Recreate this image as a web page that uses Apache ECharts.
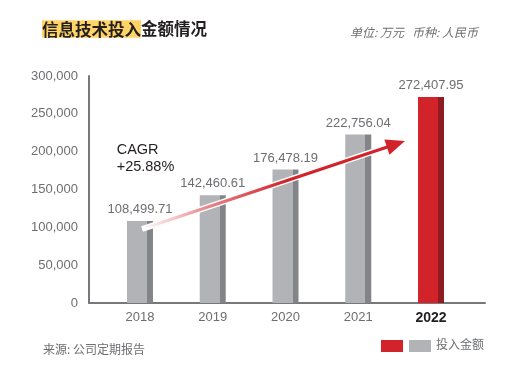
<!DOCTYPE html>
<html><head><meta charset="utf-8">
<script src="https://cdn.jsdelivr.net/npm/echarts@6/dist/echarts.min.js"></script>
<style>html,body{margin:0;padding:0;background:#fff}#c{width:505px;height:370px}</style>
</head><body><div id="c"></div>
<script>
const years = ['2018', '2019', '2020', '2021', '2022'];
const values = [108499.71, 142460.61, 176478.19, 222756.04, 272407.95];
const valueLabels = ['108,499.71', '142,460.61', '176,478.19', '222,756.04', '272,407.95'];
const yTicks = [0, 50000, 100000, 150000, 200000, 250000, 300000];
const highlightIndex = 4;
const cagrText = ['CAGR', '+25.88%'];
const titleHi = '信息技术投入';
const titleRest = '金额情况';
const unitText = '单位: 万元   币种: 人民币';
const sourceText = '来源: 公司定期报告';
const legendText = '投入金额';

const FONT = '"Liberation Sans", Arial, "Noto Sans CJK SC", sans-serif';
const CJK = '"Noto Sans CJK SC", "Liberation Sans", sans-serif';
const GRAY_L = '#b2b3b6', GRAY_D = '#838487', RED_L = '#d2232a', RED_D = '#8f1c21';
const TXT = '#6d6e71', DARK = '#231f20';

function barColor(l, d) {
  return new echarts.graphic.LinearGradient(0, 0, 1, 0, [
    {offset: 0, color: l}, {offset: 0.77, color: l},
    {offset: 0.77, color: d}, {offset: 1, color: d}
  ]);
}

const chart = echarts.init(document.getElementById('c'), null, {renderer: 'canvas'});
const option = {
  animation: false,
  backgroundColor: '#fff',
  textStyle: {fontFamily: FONT},
  title: [
    {left: 37, top: 15, text: '{h|' + titleHi + '}{n|' + titleRest + '}',
     textStyle: {rich: {
       h: {fontFamily: CJK, fontSize: 16.5, color: DARK, backgroundColor: '#ffd466', padding: [1, 0, 0, 0], lineHeight: 18},
       n: {fontFamily: CJK, fontSize: 16.5, color: DARK, lineHeight: 18}
     }}},
    {right: 22, top: 21, text: unitText,
     textStyle: {fontFamily: CJK, fontSize: 12, fontStyle: 'italic', fontWeight: 'normal', color: TXT}},
    {left: 38, top: 338, text: sourceText,
     textStyle: {fontFamily: CJK, fontSize: 12, fontWeight: 'normal', color: TXT}}
  ],
  grid: [
    {left: 89, right: 20, top: 76, bottom: 67},
    {left: 103.6, right: 37.6, top: 76, bottom: 67}
  ],
  xAxis: [
    {gridIndex: 0, type: 'value', min: 2017.3, max: 2022.74,
     axisLine: {show: true, onZero: false, lineStyle: {color: '#77787b', width: 2}},
     axisTick: {show: false}, axisLabel: {show: false}, splitLine: {show: false}},
    {gridIndex: 1, type: 'category', data: years,
     axisLine: {show: false}, axisTick: {show: false}, splitLine: {show: false},
     axisLabel: {margin: 8, fontSize: 13, color: TXT, fontFamily: FONT,
       formatter: (v, i) => i === highlightIndex ? '{b|' + v + '}' : v,
       rich: {b: {fontSize: 14, fontWeight: 'bold', color: DARK, fontFamily: FONT}}}}
  ],
  yAxis: [
    {gridIndex: 0, type: 'value', min: 0, max: 300000, interval: 50000,
     axisLine: {show: true, lineStyle: {color: '#77787b', width: 2}},
     axisTick: {show: false}, splitLine: {show: false},
     axisLabel: {margin: 11, fontSize: 13, color: TXT, fontFamily: FONT,
       formatter: v => yTicks.indexOf(v) >= 0 ? v.toLocaleString('en-US') : ''}},
    {gridIndex: 1, type: 'value', min: 0, max: 300000, interval: 50000, show: false}
  ],
  series: [{
    type: 'bar', xAxisIndex: 1, yAxisIndex: 1, barWidth: 26, z: 2,
    data: values.map((v, i) => ({
      value: v,
      itemStyle: {color: i === highlightIndex ? barColor(RED_L, RED_D) : barColor(GRAY_L, GRAY_D)}
    })),
    label: {show: true, position: 'top', distance: 5, fontSize: 13, color: TXT, fontFamily: FONT,
      formatter: p => valueLabels[p.dataIndex]}
  }]
};
chart.setOption(option);

// annotation arrow (decoration) positioned via data coordinates
const p0 = chart.convertToPixel({xAxisIndex: 0, yAxisIndex: 0}, [2018.03, 97800]);
const tip = chart.convertToPixel({xAxisIndex: 0, yAxisIndex: 0}, [2021.64, 214000]);
const dx = tip[0] - p0[0], dy = tip[1] - p0[1];
const L = Math.hypot(dx, dy), ux = dx / L, uy = dy / L, nx = -uy, ny = ux;
const headLen = 19, headW = 8;
const base = [tip[0] - ux * headLen, tip[1] - uy * headLen];
const lineEnd = [tip[0] - ux * (headLen - 2), tip[1] - uy * (headLen - 2)];
const grad = new echarts.graphic.LinearGradient(p0[0], p0[1], tip[0], tip[1], [
  {offset: 0, color: '#ffffff'}, {offset: 0.25, color: '#e7868a'}, {offset: 0.55, color: '#d2232a'}, {offset: 1, color: '#d2232a'}
], true);
const headPts = [tip, [base[0] + nx * headW, base[1] + ny * headW], [base[0] - nx * headW, base[1] - ny * headW]];

const cagrPos = chart.convertToPixel({xAxisIndex: 0, yAxisIndex: 0}, [2017.68, 213000]);

chart.setOption({
  graphic: [
    {type: 'line', z: 10, shape: {x1: p0[0], y1: p0[1], x2: lineEnd[0], y2: lineEnd[1]},
     style: {stroke: '#ffffff', lineWidth: 6, lineCap: 'butt'}},
    {type: 'polygon', z: 10, shape: {points: headPts}, style: {fill: '#ffffff', stroke: '#ffffff', lineWidth: 3}},
    {type: 'line', z: 11, shape: {x1: p0[0], y1: p0[1], x2: lineEnd[0], y2: lineEnd[1]},
     style: {stroke: grad, lineWidth: 3, lineCap: 'butt'}},
    {type: 'polygon', z: 11, shape: {points: headPts}, style: {fill: '#d2232a'}},
    {type: 'text', z: 12, left: cagrPos[0], top: cagrPos[1],
     style: {text: cagrText.join('\n'), fill: DARK, font: '14.5px ' + FONT, lineHeight: 17}},
    {type: 'rect', left: 381, top: 340, shape: {width: 22, height: 12}, style: {fill: RED_L}},
    {type: 'rect', left: 409, top: 340, shape: {width: 22, height: 12}, style: {fill: GRAY_L}},
    {type: 'text', left: 436, top: 338, style: {text: legendText, fill: TXT, font: '12px ' + CJK}}
  ]
});
</script>
</body></html>
